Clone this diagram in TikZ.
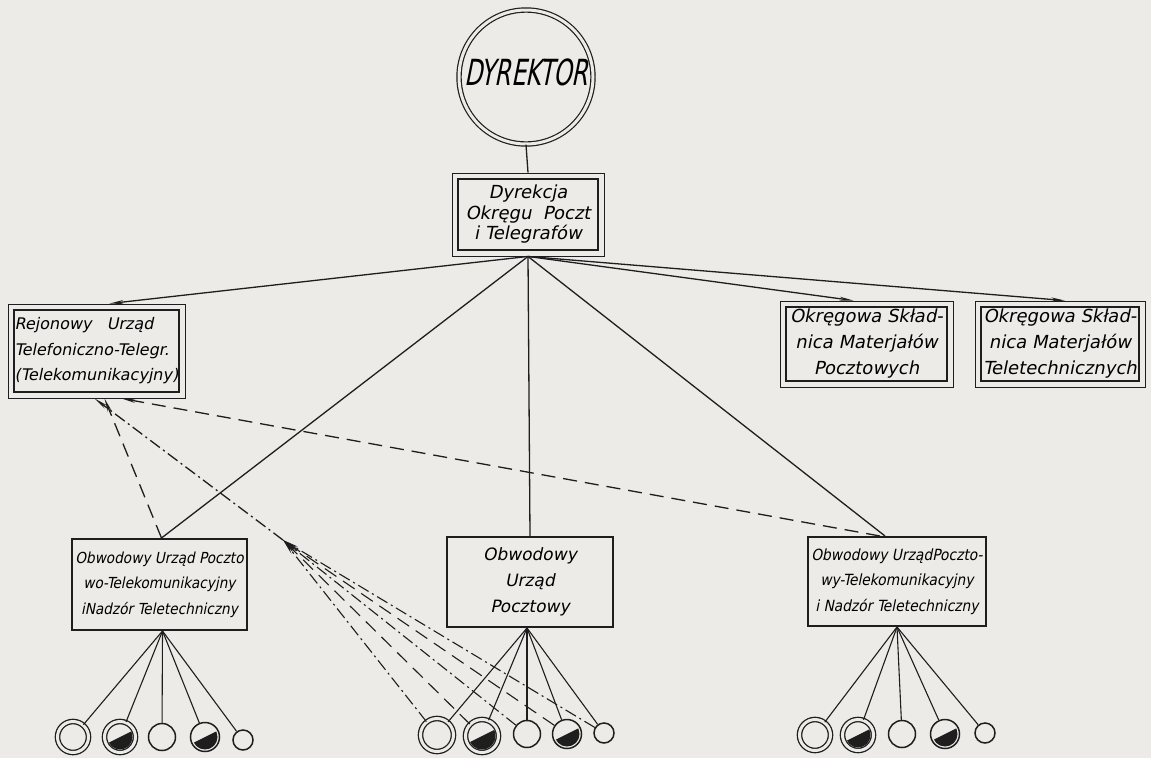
\documentclass[tikz,border=0pt]{standalone}
\usepackage{fontspec}
\newfontfamily\hand{DejaVu Sans}[FakeSlant=0.2]
\newfontfamily\handc{DejaVu Sans Condensed}[FakeSlant=0.2]
\newfontfamily\handn{DejaVu Sans Condensed}[FakeSlant=0.2,FakeStretch=0.72]
\usetikzlibrary{arrows.meta,calc}
\definecolor{paper}{RGB}{236,235,231}
\definecolor{ink}{RGB}{30,30,30}
\begin{document}
\begin{tikzpicture}[x=1pt,y=-1pt,
  outerbox/.style={draw=ink,line width=0.9pt,inner sep=0pt,align=center},
  obox/.style={draw=ink,line width=2pt,inner sep=0pt,align=center},
  link/.style={draw=ink,line width=1.3pt},
  tip/.style={-{Stealth[length=14pt,width=4pt]}},
  dsh/.style={dash pattern=on 14pt off 8pt},
  dshdot/.style={dash pattern=on 12pt off 4pt on 2pt off 4pt},
  ring/.style={circle,draw=ink,line width=1.3pt,double=paper,double distance=3pt,inner sep=0pt,minimum size=31pt},
  disc/.style={circle,draw=ink,line width=1.5pt,inner sep=0pt,minimum size=27pt},
  smalldisc/.style={circle,draw=ink,line width=1.5pt,inner sep=0pt,minimum size=20pt}]
\fill[paper] (0,0) rectangle (1151,758);
\useasboundingbox (0,0) rectangle (1151,758);

% director
\node[circle,draw=ink,line width=1.2pt,double=paper,double distance=3pt,inner sep=0pt,minimum size=134pt,
  font=\handn\fontsize{36}{36}\selectfont] (dir) at (526,77) {\raisebox{10pt}{DYREKTOR}};

% boxes with double frame
\node[outerbox,minimum width=152pt,minimum height=83pt,font=\hand\fontsize{18}{20.5}\selectfont] (dyr) at (528,214.5)
  {Dyrekcja\\Okręgu~~Poczt\\i Telegrafów};
\node[outerbox,minimum width=177pt,minimum height=94pt,align=left,font=\hand\fontsize{16}{25.5}\selectfont] (rej) at (96.5,351)
  {Rejonowy~~~Urząd\\Telefoniczno-Telegr.\\(Telekomunikacyjny)};
\node[outerbox,minimum width=173pt,minimum height=86pt,font=\hand\fontsize{18}{26}\selectfont] (skp) at (866.5,344)
  {Okręgowa Skład-\\nica Materjałów\\Pocztowych};
\node[outerbox,minimum width=170pt,minimum height=86pt,font=\hand\fontsize{18}{26}\selectfont] (skt) at (1060,344)
  {Okręgowa Skład-\\nica Materjałów\\Teletechnicznych};
\foreach \n in {dyr,rej,skp,skt}
  \draw[ink,line width=2pt] ([shift={(6pt,-6pt)}]\n.north west) rectangle ([shift={(-6pt,6pt)}]\n.south east);

% district offices
\node[obox,minimum width=175pt,minimum height=91pt,font=\handc\fontsize{15.2}{25.5}\selectfont] (lob) at (159.5,584.5)
  {Obwodowy Urząd Poczto\\wo-Telekomunikacyjny\\iNadzór Teletechniczny};
\node[obox,minimum width=166pt,minimum height=90pt,font=\hand\fontsize{17}{26}\selectfont] (cob) at (530,582)
  {Obwodowy\\Urząd\\Pocztowy};
\node[obox,minimum width=178pt,minimum height=89pt,font=\handc\fontsize{15.4}{25.5}\selectfont] (rob) at (897,581.5)
  {Obwodowy UrządPoczto-\\wy-Telekomunikacyjny\\i Nadzór Teletechniczny};

% small offices
\node[ring] (l1) at (73,737) {};
\node[ring] (l2) at (120,737) {};
\node[disc] (l3) at (162,737) {};
\node[disc,minimum size=29pt] (l4) at (205,737) {};
\node[smalldisc] (l5) at (243,740) {};
\node[ring,minimum size=33pt] (k1) at (437,735) {};
\node[ring,minimum size=33pt] (k2) at (482,736) {};
\node[disc] (k3) at (527,734) {};
\node[disc,minimum size=29pt] (k4) at (567,734) {};
\node[smalldisc] (k5) at (604,733) {};
\node[ring] (r1) at (815,735) {};
\node[ring] (r2) at (858,735) {};
\node[disc] (r3) at (902,734) {};
\node[disc,minimum size=29pt] (r4) at (945,734) {};
\node[smalldisc] (r5) at (985,733) {};

\foreach \c/\r in {l2/12.5,k2/13.5,r2/12.5,l4/12.5,k4/12.5,r4/12.5}{
  \begin{scope}
    \clip (\c.center) circle[radius=\r pt];
    \fill[ink] ([shift={(-24pt,-12pt)}]\c.center) -- ([shift={(24pt,12pt)}]\c.center) -- ([shift={(24pt,-30pt)}]\c.center) -- cycle;
  \end{scope}}

% hierarchy lines
\draw[link] (dir.south) -- (dyr.north);
\draw[link,tip] (dyr.south) -- ([xshift=13pt]rej.north);
\draw[link,tip] (dyr.south) -- ([xshift=-13pt]skp.north);
\draw[link,tip] (dyr.south) -- ([xshift=5pt]skt.north);
\draw[link] (dyr.south) -- ([xshift=2pt]lob.north);
\draw[link] (dyr.south) -- (cob.north);
\draw[link] (dyr.south) -- ([xshift=-12pt]rob.north);

\foreach \c in {l1,l2,l3,l4,l5} \draw[link,line width=1.1pt] ([xshift=3pt]lob.south) -- (\c);
\foreach \c in {k1,k2,k3,k4,k5} \draw[link,line width=1.1pt] ([xshift=-3pt]cob.south) -- (\c);
\foreach \c in {r1,r2,r3,r4,r5} \draw[link,line width=1.1pt] (rob.south) -- (\c);

% supervision lines
\draw[link,dsh,tip] ([xshift=2pt]lob.north) -- ([xshift=8pt]rej.south);
\draw[link,dsh,tip] ([xshift=-17pt]rob.north) -- ([xshift=25pt]rej.south);
\coordinate (apex) at (283,540);
\draw[link,dshdot,tip] (apex) -- ([xshift=-2pt]rej.south);
\draw[link,dshdot,line width=1.1pt,-{Stealth[length=16pt,width=4pt]}] (k1) -- (apex);
\draw[link,dsh,line width=1.1pt,-{Stealth[length=16pt,width=4pt]}] (k2) -- (apex);
\draw[link,dshdot,line width=1.1pt,-{Stealth[length=16pt,width=4pt]}] (k3) -- (apex);
\draw[link,dsh,line width=1.1pt,-{Stealth[length=16pt,width=4pt]}] (k4) -- (apex);
\draw[link,dshdot,line width=1.1pt,-{Stealth[length=16pt,width=4pt]}] (k5) -- (apex);
\end{tikzpicture}
\end{document}
